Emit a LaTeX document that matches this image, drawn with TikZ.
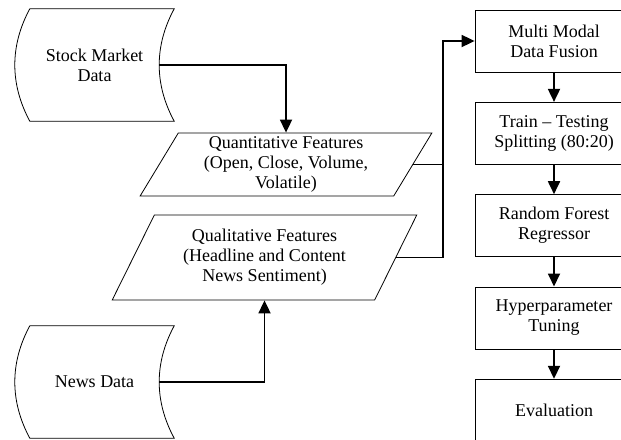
\documentclass[tikz,border=0pt]{standalone}
\usepackage{fontspec}
\setmainfont{Liberation Serif}
\usetikzlibrary{positioning, shapes.geometric, arrows.meta}

\begin{document}
\begin{tikzpicture}[
    x=1pt, y=-1pt,
    node distance=29.5pt,
    font=\fontsize{18}{20}\selectfont,
    store/.style={minimum width=129pt, minimum height=112pt, align=center, inner sep=0pt},
    para/.style={draw, line width=0.8pt, shape=trapezium, trapezium stretches=true,
                 align=center, inner sep=1pt},
    box/.style={draw, line width=0.8pt, minimum width=158pt, minimum height=62pt, align=center},
    arr/.style={-{Triangle[width=12pt,length=13pt]}, line width=1.8pt},
    link/.style={line width=1.8pt},
  ]
  \useasboundingbox (0,0) rectangle (621,439);
  % data sources
  \node[store] (stock) at (94.5,65) {Stock Market\\Data};
  \node[store] (news) at (94.5,382) {News Data};
  \foreach \n in {stock,news}
    \draw[line width=0.8pt] (\n.north west) -- ([xshift=15pt]\n.north east)
      .. controls +(-20,37) and +(-20,-37) .. ([xshift=15pt]\n.south east)
      -- (\n.south west)
      .. controls +(-20,-37) and +(-20,37) .. (\n.north west);
  % features
  \node[para, trapezium left angle=63, trapezium right angle=117,
        minimum width=292pt, minimum height=63pt] (quant) at (286,164.5)
        {Quantitative Features\\(Open, Close, Volume,\\Volatile)};
  \node[para, trapezium left angle=61.6, trapezium right angle=118.4,
        minimum width=305pt, minimum height=85pt] (qual) at (264.5,257.5)
        {Qualitative Features\\(Headline and Content\\News Sentiment)};
  % pipeline
  \node[box] (fusion) at (554,41) {Multi Modal\\Data Fusion};
  \node[box, below=of fusion] (split) {Train -- Testing\\Splitting (80:20)};
  \node[box, below=of split] (rf) {Random Forest\\Regressor};
  \node[box, below=of rf] (tune) {Hyperparameter\\Tuning};
  \node[box, below=of tune] (eval) {Evaluation};
  % connectors
  \coordinate (bus) at ([xshift=-32pt]fusion.west);
  \draw[arr] (stock.east) -| (quant);
  \draw[arr] (news.east) -| (qual);
  \draw[link] (qual) -| (bus);
  \draw[arr] (quant) -| (bus) -- (fusion);
  \foreach \a/\b in {fusion/split, split/rf, rf/tune, tune/eval}
    \draw[arr] (\a) -- (\b);
\end{tikzpicture}
\end{document}
